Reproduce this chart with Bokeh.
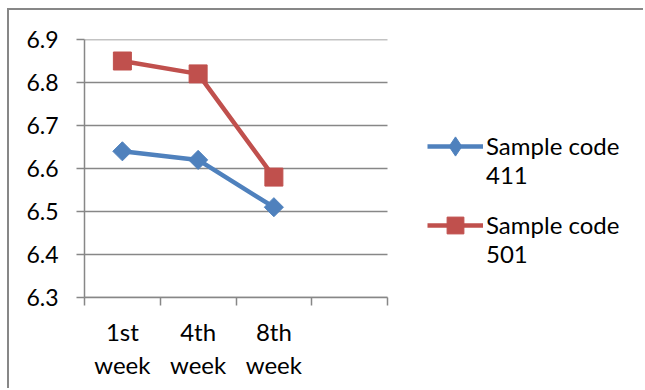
from bokeh.plotting import figure
from bokeh.models import (Range1d, LinearAxis, FixedTicker, Legend, LegendItem,
                          Grid, NumeralTickFormatter)
from bokeh.embed import file_html
from bokeh.resources import INLINE

categories = ["1st\nweek", "4th\nweek", "8th\nweek", ""]
series_411 = [6.64, 6.62, 6.51]
series_501 = [6.85, 6.82, 6.58]
y_ticks = [6.3, 6.4, 6.5, 6.6, 6.7, 6.8, 6.9]
series_labels = ["Sample code\n411", "Sample code\n501"]

BLUE = "#4F81BD"
RED = "#C0504D"
GRAY = "#878787"
FONT = "Lato"
FS_Y = "23px"
FS = "24px"

# layout (pixels)
W, H_ = 636, 380          # canvas size (after css margin + border)
LEFT, TOP, BOTTOM = 75, 29, 93
PLOT_W = 303              # width taken by the category axis
frame_w = W - LEFT

n = len(categories)
centers = [i + 0.5 for i in range(n)]
bounds = list(range(n + 1))

p = figure(width=W, height=H_, output_backend="svg", toolbar_location=None,
           x_range=Range1d(0, n * frame_w / PLOT_W),
           y_range=Range1d(y_ticks[0], y_ticks[-1]),
           x_axis_location=None, y_axis_location=None,
           min_border_left=LEFT, min_border_right=0, min_border_top=TOP,
           min_border_bottom=BOTTOM,
           styles={"margin-left": "7px", "margin-top": "8px",
                   "border-left": "2px solid " + GRAY,
                   "border-top": "2px solid " + GRAY})
p.outline_line_color = None
p.background_fill_color = "white"
p.border_fill_color = "white"
p.center = [r for r in p.center if not isinstance(r, Grid)]

# y axis
yax = LinearAxis(ticker=FixedTicker(ticks=y_ticks, minor_ticks=[]),
                 formatter=NumeralTickFormatter(format="0.0"))
yax.axis_line_color = GRAY
yax.axis_line_width = 1.5
yax.major_tick_line_color = GRAY
yax.major_tick_line_width = 1.5
yax.major_tick_in = 0
yax.major_tick_out = 8
yax.minor_tick_line_color = None
yax.major_label_standoff = 18
yax.major_label_text_font = FONT
yax.major_label_text_font_size = FS_Y
yax.major_label_text_color = "black"
p.add_layout(yax, "left")

# x axis: labels at category centres, ticks at category boundaries
xax = LinearAxis(ticker=FixedTicker(ticks=centers, minor_ticks=bounds), bounds=(0, n))
xax.major_label_overrides = {c: lab for c, lab in zip(centers, categories)}
xax.axis_line_color = GRAY
xax.axis_line_width = 1.5
xax.major_tick_line_color = None
xax.major_tick_in = 0
xax.major_tick_out = 0
xax.minor_tick_line_color = GRAY
xax.minor_tick_line_width = 1.5
xax.minor_tick_in = 0
xax.minor_tick_out = 8
xax.major_label_standoff = 11
xax.major_label_text_font = FONT
xax.major_label_text_font_size = FS
xax.major_label_text_color = "black"
xax.major_label_text_line_height = 1.15
p.add_layout(xax, "below")

# horizontal gridlines across the category area only
p.segment(x0=[0] * len(y_ticks), x1=[n] * len(y_ticks), y0=y_ticks, y1=y_ticks,
          line_color=GRAY, line_width=1.5)

x_data = centers[:len(series_411)]
l1 = p.line(x_data, series_411, line_color=BLUE, line_width=4.5)
m1 = p.scatter(x_data, series_411, marker="square", angle=0.785398, size=13.5,
               fill_color=BLUE, line_color=BLUE)
m1_key = p.scatter(x_data, series_411, marker="diamond", size=18,
                   fill_color=BLUE, line_color=BLUE, visible=False)
l2 = p.line(x_data, series_501, line_color=RED, line_width=4.5)
m2 = p.scatter(x_data, series_501, marker="square", size=18,
               fill_color=RED, line_color=RED)

# leading blank line keeps the key glyph level with the first text line
for (ln, mk, lab, vy, gh) in [(l1, m1_key, series_labels[0], 108, 48),
                              (l2, m2, series_labels[1], 29, 42)]:
    leg = Legend(items=[LegendItem(label="\n" + lab, renderers=[ln, mk])],
                 location=(343, vy), orientation="vertical")
    leg.glyph_width = 56
    leg.glyph_height = gh
    leg.label_height = 20
    leg.spacing = 0
    leg.padding = 0
    leg.margin = 0
    leg.label_standoff = 3
    leg.border_line_color = None
    leg.background_fill_alpha = 0
    leg.label_text_font = FONT
    leg.label_text_font_size = FS
    leg.label_text_line_height = 1.1
    leg.label_text_color = "black"
    p.add_layout(leg, "center")

open("out.html", "w").write(file_html(p, INLINE))
